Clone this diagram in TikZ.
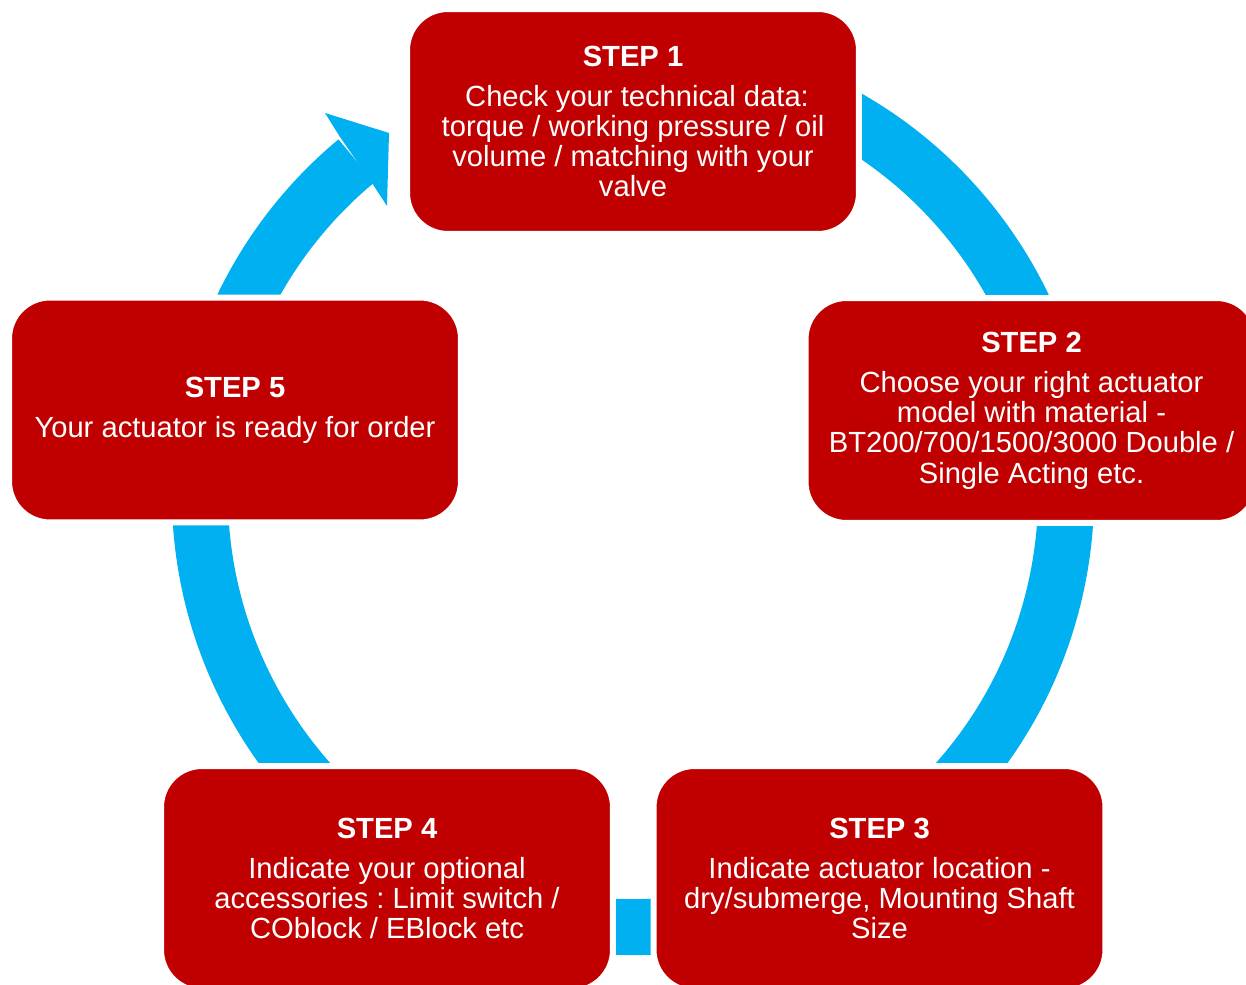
\documentclass[tikz,border=0pt]{standalone}
\usepackage{fontspec}
\setmainfont{Liberation Sans}
\frenchspacing
\definecolor{stepred}{HTML}{C00000}
\definecolor{ringblue}{HTML}{00B0F0}
\tikzset{
	stepbox/.style={fill=stepred, draw=white, line width=0.12cm, rounded corners=0.82cm,
		minimum width=9.04cm, minimum height=4.5cm, inner sep=0pt, align=center,
		text=white, font=\fontsize{16.6}{17.2}\selectfont},
	ring/.style={draw=ringblue, line width=1.12cm},
}
\begin{document}
\begin{tikzpicture}[x=0.02cm, y=0.02cm]
				\useasboundingbox (0,0) rectangle (1246,984);
				\coordinate (c) at (633,490);

				% Ring
				\draw[ring] (c) ++(75:433) arc[start angle=75, end angle=-230.3, radius=433];
				\fill[ringblue] (340,847) -- (325,871) -- (389,851) -- (387,778) -- (372,801) -- cycle;

				% Steps
				\node[stepbox] (step1) at (633,862.5) {\textbf{STEP 1}\\[0.2cm]
					\ Check your technical data:\\ torque / working pressure / oil\\ volume / matching with your\\ valve};
				\node[stepbox] (step2) at (1031.5,573.5) {\textbf{STEP 2}\\[0.2cm]
					Choose your right actuator\\ model with material -\\ BT200/700/1500/3000 Double /\\ Single Acting etc.};
				\node[stepbox] (step3) at (879.5,105.5) {\textbf{STEP 3}\\[0.2cm]
					Indicate actuator location -\\ dry/submerge, Mounting Shaft\\ Size};
				\node[stepbox] (step4) at (387,105.5) {\textbf{STEP 4}\\[0.2cm]
					Indicate your optional\\ accessories : Limit switch /\\ COblock / EBlock etc};
				\node[stepbox] (step5) at (235,574) {\textbf{STEP 5}\\[0.2cm]
					Your actuator is ready for order};
\end{tikzpicture}
\end{document}
